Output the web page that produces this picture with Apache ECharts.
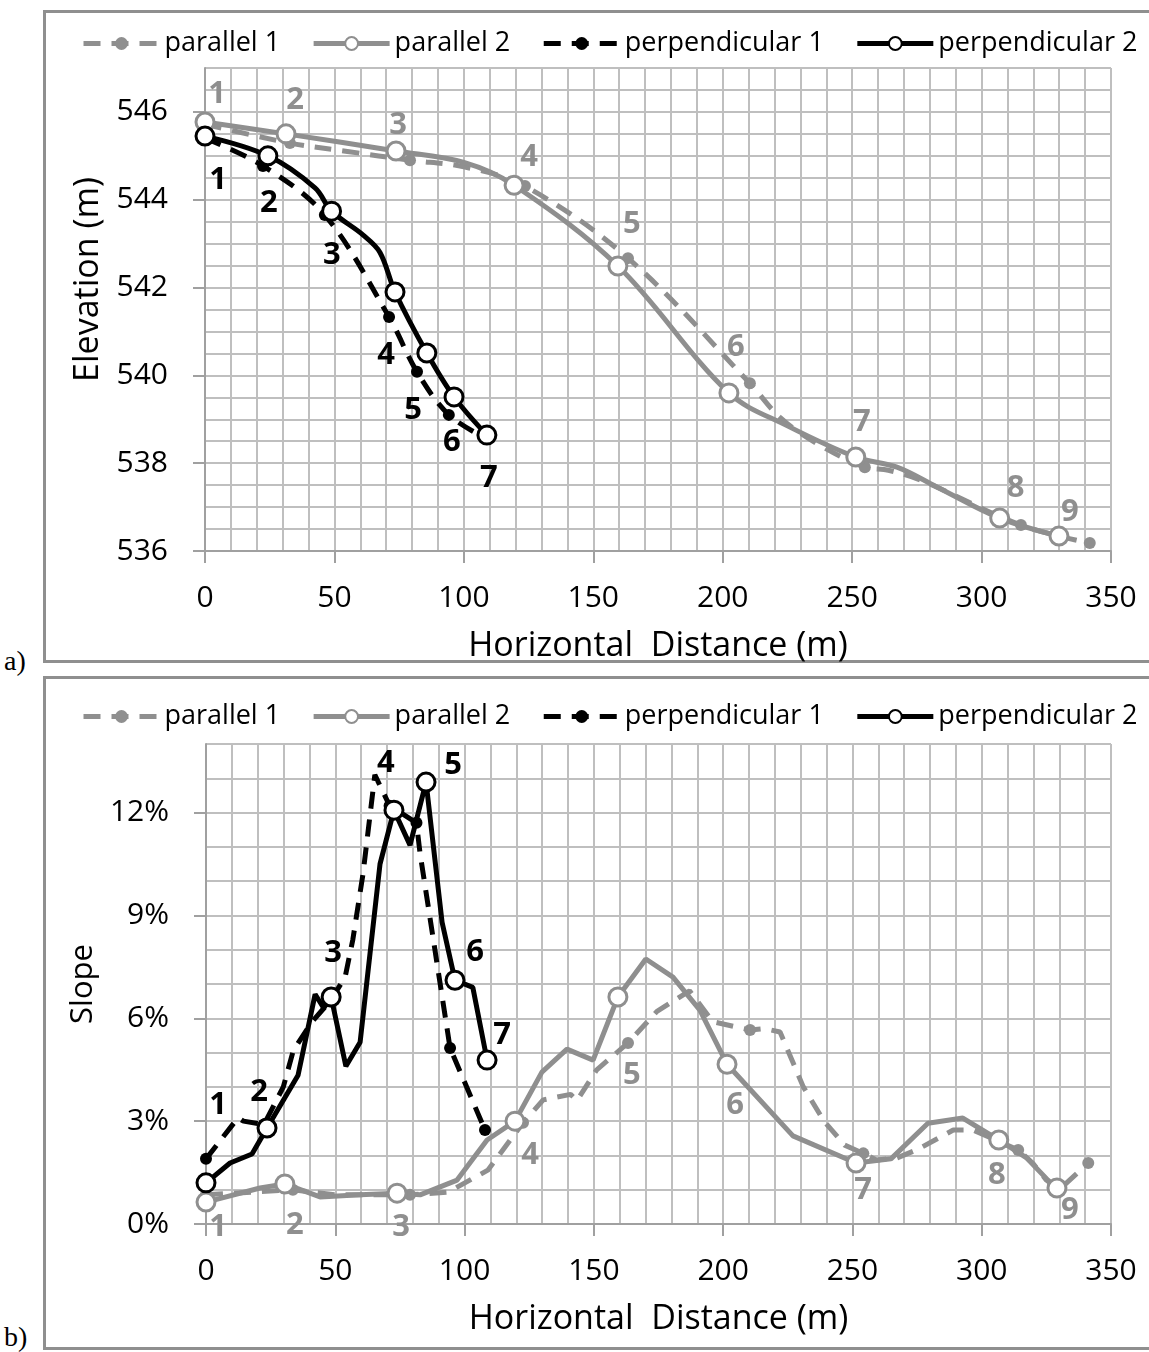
<!DOCTYPE html>
<html>
<head>
<meta charset="utf-8">
<script src="https://cdn.jsdelivr.net/npm/echarts@6/dist/echarts.min.js"></script>
<style>
  html, body { margin: 0; padding: 0; background: #fff; }
  #wrap { position: relative; width: 1149px; height: 1352px; overflow: hidden; }
  .frame { position: absolute; border: 3px solid #8f8f8f; box-sizing: border-box; }
  .tag { position: absolute; font-family: 'Liberation Serif', serif; font-size: 28px; color: #000; }
  #chart { position: absolute; left: 0; top: 0; width: 1149px; height: 1352px; }
</style>
</head>
<body>
<div id="wrap">
  <div class="frame" style="left:43px;top:10px;width:1120px;height:653px"></div>
  <div class="frame" style="left:43px;top:676px;width:1120px;height:674px"></div>
  <div class="tag" style="left:4px;top:645px">a)</div>
  <div class="tag" style="left:4px;top:1321px">b)</div>
  <div id="chart"></div>
</div>
<script>
// ---- data: a) elevation profiles (distance m, elevation m, station number or 0)
const elevPar1X = [0, 32.8, 55, 79.2, 100, 123.6, 163.4, 210.5, 222, 236, 254.9, 264, 277, 315.2, 341.8];
const elevPar1Y = [545.72, 545.29, 545.1, 544.9, 544.75, 544.31, 542.67, 539.82, 539.05, 538.46, 537.91, 537.84, 537.6, 536.59, 536.18];
const elevPar1Stn = [1, 2, 0, 3, 0, 4, 5, 6, 0, 0, 7, 0, 0, 8, 9];

const elevPar2X = [0, 31.3, 73.8, 100, 119.4, 159.5, 202.4, 225, 251.4, 267.3, 282.7, 307, 329.9];
const elevPar2Y = [545.77, 545.5, 545.11, 544.85, 544.33, 542.49, 539.6, 538.85, 538.14, 537.91, 537.46, 536.75, 536.34];
const elevPar2Stn = [1, 2, 3, 0, 4, 5, 6, 0, 7, 0, 0, 8, 9];

const elevPerp1X = [0, 22.4, 46.3, 71.1, 81.9, 94.2, 108.5];
const elevPerp1Y = [545.4, 544.77, 543.65, 541.33, 540.08, 539.1, 538.57];
const elevPerp1Stn = [1, 2, 3, 4, 5, 6, 7];

const elevPerp2X = [0, 24.3, 42.5, 48.9, 61, 67.6, 73.4, 85.7, 96.2, 108.9];
const elevPerp2Y = [545.45, 545.0, 544.27, 543.74, 543.2, 542.8, 541.9, 540.51, 539.51, 538.64];
const elevPerp2Stn = [1, 2, 0, 3, 0, 0, 4, 5, 6, 7];

// ---- data: b) slope profiles (distance m, slope %)
const slopePar1X = [0, 33.6, 50, 78.9, 93.7, 109, 122.6, 130.4, 141, 143.5, 151, 163.2, 174.4, 187, 196, 210.4, 216, 222, 231, 239, 247, 254.2, 259.3, 267, 274.8, 289, 296.7, 314.1, 319.8, 325, 330, 341.2];
const slopePar1Y = [0.85, 1.0, 0.85, 0.85, 0.93, 1.57, 2.95, 3.62, 3.78, 3.6, 4.49, 5.28, 6.2, 6.8, 5.9, 5.66, 5.7, 5.6, 4.0, 3.0, 2.3, 2.06, 1.87, 1.92, 2.16, 2.74, 2.74, 2.16, 1.77, 1.28, 1.0, 1.78];
const slopePar1Stn = [1, 2, 0, 3, 0, 0, 4, 0, 0, 0, 0, 5, 0, 0, 0, 6, 0, 0, 0, 0, 0, 7, 0, 0, 0, 0, 0, 8, 0, 0, 0, 9];

const slopePar2X = [0, 20.9, 30.5, 44.1, 59.6, 73.9, 82.8, 97.1, 108.7, 119.5, 129.9, 139.6, 149.7, 159.3, 170.1, 180.6, 191, 201.5, 227, 251.4, 264.9, 279.2, 292.7, 306.6, 317.5, 325.6, 329.1];
const slopePar2Y = [0.64, 1.05, 1.17, 0.79, 0.85, 0.9, 0.85, 1.28, 2.45, 3.0, 4.43, 5.1, 4.78, 6.62, 7.73, 7.2, 6.24, 4.66, 2.57, 1.78, 1.9, 2.94, 3.09, 2.45, 1.92, 1.28, 1.05];
const slopePar2Stn = [1, 0, 2, 0, 0, 3, 0, 0, 0, 4, 0, 0, 0, 5, 0, 0, 0, 6, 0, 7, 0, 0, 0, 8, 0, 0, 9];

const slopePerp1X = [0, 12.4, 14.5, 22.4, 29.9, 33.8, 41, 48, 53.8, 56.8, 60.7, 65.3, 71, 81.4, 82.8, 94.4, 107.9];
const slopePerp1Y = [1.9, 3.1, 3.0, 2.9, 4.0, 5.07, 5.9, 6.5, 7.2, 8.3, 10.2, 13.1, 12.2, 11.7, 10.8, 5.13, 2.74];
const slopePerp1Stn = [1, 0, 0, 2, 0, 0, 0, 3, 0, 0, 0, 0, 4, 5, 0, 6, 7];

const slopePerp2X = [0, 9.3, 17.8, 23.6, 35.6, 42.2, 45.5, 48.4, 54.1, 59.6, 67.3, 72.7, 78.9, 85.1, 91.3, 96.3, 103.2, 108.7];
const slopePerp2Y = [1.2, 1.78, 2.04, 2.8, 4.34, 6.7, 6.3, 6.62, 4.6, 5.3, 10.5, 12.07, 11.05, 12.89, 8.8, 7.11, 6.9, 4.78];
const slopePerp2Stn = [1, 0, 0, 2, 0, 0, 0, 3, 0, 0, 0, 4, 0, 5, 0, 6, 0, 7];

// ---- axis ticks / texts
const seriesNames = ['parallel 1', 'parallel 2', 'perpendicular 1', 'perpendicular 2'];
const elevTicks = [536, 538, 540, 542, 544, 546];
const slopeTicks = [0, 3, 6, 9, 12];
const xTitle = 'Horizontal  Distance (m)';

// ---- label placement (pixels, relative to the marker), one entry per station
const elevGrayOffsets = [[12, -28], [9, -34], [2, -26], [15, -28], [14, -42], [7, -46], [6, -35], [16, -30], [11, -24]];
const elevBlackOffsets = [[13, 42], [6, 37], [7, 40], [-3, 38], [-4, 38], [3, 27], [3, 40]];
const slopeGrayOffsets = [[12, 25], [10, 41], [4, 34], [15, 34], [14, 78], [8, 41], [7, 27], [-2, 35], [13, 22]];
const slopeBlackOffsets = [[12, -78], [-8, -36], [2, -44], [-8, -47], [27, -17], [20, -28], [15, -25]];

const FONT = "'Open Sans', sans-serif";
const GRAY = '#8f8f8f';
const BLACK = '#000000';
const gridLine = { color: '#bfbfbf', width: 2 };
const axisCol = '#a0a0a0';

function buildData(xs, ys, stn, offsets, labelColor) {
  return xs.map((x, i) => {
    const s = stn[i];
    if (!s) return { value: [x, ys[i]], symbol: 'none' };
    const item = { value: [x, ys[i]] };
    if (offsets) {
      item.label = {
        show: true, position: 'inside', offset: offsets[s - 1], formatter: String(s),
        color: labelColor, fontSize: 31, fontWeight: 'bold', fontFamily: FONT
      };
    }
    return item;
  });
}

function lineSeries(name, gi, data, color, dashed, hollow, smooth) {
  return {
    name: name, type: 'line', xAxisIndex: gi, yAxisIndex: gi * 2,
    data: data, smooth: smooth, symbol: 'circle',
    symbolSize: hollow ? 18 : 12,
    lineStyle: { color: color, width: 5, type: dashed ? [17, 11] : 'solid' },
    itemStyle: hollow ? { color: '#ffffff', borderColor: color, borderWidth: 3 } : { color: color },
    label: { show: false },
    emphasis: { disabled: true },
    z: 2
  };
}

function xAxisFor(gi) {
  return {
    type: 'value', gridIndex: gi, min: 0, max: 350, interval: 50,
    name: xTitle, nameLocation: 'middle', nameGap: 78,
    nameTextStyle: { fontFamily: FONT, fontSize: 34, color: '#000' },
    axisLine: { show: true, onZero: false, lineStyle: { color: axisCol, width: 2 } },
    axisTick: { show: true, length: 12, lineStyle: { color: axisCol, width: 2 } },
    axisLabel: { fontFamily: FONT, fontSize: 30, color: '#000', margin: 32 },
    splitLine: { show: true, lineStyle: gridLine },
    minorTick: { show: false, splitNumber: 5 },
    minorSplitLine: { show: true, lineStyle: gridLine }
  };
}

function yAxesFor(gi, min, max, minor, ticks, fmt, title, titleSize, titlePad) {
  return [
    {
      type: 'value', gridIndex: gi, min: min, max: max, interval: minor,
      name: title, nameLocation: 'middle', nameRotate: 90, nameGap: 98,
      nameTextStyle: { fontFamily: FONT, fontSize: titleSize, color: '#000', padding: titlePad },
      axisLine: { show: true, onZero: false, lineStyle: { color: axisCol, width: 2 } },
      axisTick: { show: false },
      axisLabel: {
        fontFamily: FONT, fontSize: 30, color: '#000', margin: 37,
        formatter: v => (ticks.indexOf(v) >= 0 ? fmt(v) : '')
      },
      splitLine: { show: true, lineStyle: gridLine }
    },
    {
      type: 'value', gridIndex: gi, min: min, max: max, interval: ticks[1] - ticks[0], position: 'left',
      axisLine: { show: false },
      axisLabel: { show: false },
      splitLine: { show: false },
      axisTick: { show: true, length: 12, customValues: ticks, lineStyle: { color: axisCol, width: 2 } }
    }
  ];
}

const chart = echarts.init(document.getElementById('chart'));

chart.setOption({
  animation: false,
  grid: [
    { left: 205, top: 68, width: 906, height: 483 },
    { left: 206, top: 744, width: 905, height: 480 }
  ],
  legend: [25, 698].map(t => ({
    top: t, left: 76, width: 1110, itemWidth: 76, itemHeight: 16, itemGap: 31,
    selectedMode: false,
    lineStyle: { width: 5 },
    textStyle: { fontFamily: FONT, fontSize: 27, color: '#000' },
    data: seriesNames
  })),
  xAxis: [xAxisFor(0), xAxisFor(1)],
  yAxis: [].concat(
    yAxesFor(0, 536, 547, 0.5, elevTicks, v => String(v), 'Elevation (m)', 34, [0, 0, 0, 60]),
    yAxesFor(1, 0, 14, 1, slopeTicks, v => v + '%', 'Slope', 31, [0, 0, 0, 0])
  ),
  series: [
    lineSeries(seriesNames[0], 0, buildData(elevPar1X, elevPar1Y, elevPar1Stn, null), GRAY, true, false, 0.35),
    lineSeries(seriesNames[1], 0, buildData(elevPar2X, elevPar2Y, elevPar2Stn, elevGrayOffsets, GRAY), GRAY, false, true, 0.35),
    lineSeries(seriesNames[2], 0, buildData(elevPerp1X, elevPerp1Y, elevPerp1Stn, elevBlackOffsets, BLACK), BLACK, true, false, 0.35),
    lineSeries(seriesNames[3], 0, buildData(elevPerp2X, elevPerp2Y, elevPerp2Stn, null), BLACK, false, true, 0.35),
    lineSeries(seriesNames[0], 1, buildData(slopePar1X, slopePar1Y, slopePar1Stn, null), GRAY, true, false, false),
    lineSeries(seriesNames[1], 1, buildData(slopePar2X, slopePar2Y, slopePar2Stn, slopeGrayOffsets, GRAY), GRAY, false, true, false),
    lineSeries(seriesNames[2], 1, buildData(slopePerp1X, slopePerp1Y, slopePerp1Stn, null), BLACK, true, false, false),
    lineSeries(seriesNames[3], 1, buildData(slopePerp2X, slopePerp2Y, slopePerp2Stn, slopeBlackOffsets, BLACK), BLACK, false, true, false)
  ]
});
</script>
</body>
</html>
